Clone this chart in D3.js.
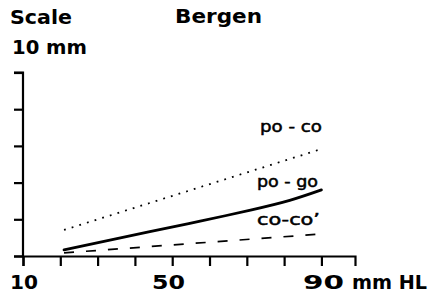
<!DOCTYPE html>
<html>
<head>
<meta charset="utf-8">
<script src="https://cdn.jsdelivr.net/npm/d3@7"></script>
<style>
  html, body { margin: 0; padding: 0; background: #fff; }
  svg { display: block; }
  text { font-family: "DejaVu Sans", sans-serif; fill: #000; }
</style>
</head>
<body>
<svg id="chart" width="431" height="294"></svg>
<script>
// ---- data ----
const hl = [21, 44, 57.5, 71, 81.5, 90];             // mm HL
const poCoHL = [21, 90];
const poCo = [1.42, 5.83];                           // dotted
const poGo = [0.33, 1.33, 1.9, 2.5, 3.03, 3.6];      // solid
const coCoHL = [21, 90];
const coCo = [0.17, 1.2];                            // dashed
const xTickValues = [10, 20, 30, 40, 50, 60, 70, 80, 90];
const xTickLabels = ["10", "50", "90"];
const yTickValues = [0, 2, 4, 6, 8, 10];
const seriesNames = ["po - co", "po - go", "co-co\u2019"];

// ---- chart ----
const svg = d3.select("#chart");
const x = d3.scaleLinear().domain([10, 99]).range([23, 355]);
const y = d3.scaleLinear().domain([0, 10]).range([256, 72.5]);

const yAxis = d3.axisLeft(y).tickValues(yTickValues).tickSize(9).tickSizeOuter(9).tickFormat("");
const xAxis = d3.axisBottom(x).tickValues(xTickValues).tickSize(10).tickSizeOuter(10).tickFormat("");

const gy = svg.append("g").attr("transform", "translate(23,0)").call(yAxis);
const gx = svg.append("g").attr("transform", "translate(0,256)").call(xAxis);
[gx, gy].forEach(g => {
  g.selectAll("path, line").attr("stroke", "#000").attr("stroke-width", 2.2);
});
gy.select(".domain").attr("d", "M-9," + y(10) + "H0V" + (y(0) + 0.5) + "H-9");

const line = d3.line().x(d => x(d[0])).y(d => y(d[1]));

svg.append("path")
  .datum(d3.zip(poCoHL, poCo))
  .attr("d", line)
  .attr("fill", "none").attr("stroke", "#000")
  .attr("stroke-width", 1.8).attr("stroke-dasharray", "1.8,6.2");

svg.append("path")
  .datum(d3.zip(hl, poGo))
  .attr("d", d3.line().x(d => x(d[0])).y(d => y(d[1])).curve(d3.curveNatural))
  .attr("fill", "none").attr("stroke", "#000")
  .attr("stroke-width", 2.8).attr("stroke-linecap", "round");

svg.append("path")
  .datum(d3.zip(coCoHL, coCo))
  .attr("d", line)
  .attr("fill", "none").attr("stroke", "#000")
  .attr("stroke-width", 1.7).attr("stroke-dasharray", "10,12");

// ---- texts ----
function txt(s, xx, yy, len, opts = {}) {
  const t = svg.append("text").attr("x", xx).attr("y", yy).text(s)
    .attr("font-size", opts.size || 19)
    .attr("font-weight", opts.weight || "bold");
  if (opts.stroke) t.attr("stroke", "#000").attr("stroke-width", opts.stroke);
  if (len) t.attr("textLength", len).attr("lengthAdjust", "spacingAndGlyphs");
  return t;
}
txt("Scale", 10, 24, 62);
txt("Bergen", 175, 23, 87);
txt("10 mm", 12, 54, 75);

// x tick labels
txt(xTickLabels[0], 10, 289, 28);
txt(xTickLabels[1], 152, 289, 33);
txt(xTickLabels[2], 303, 289, 41);
txt("mm HL", 352, 289, 75);

// series labels
txt(seriesNames[0], 260, 132, 62, { size: 15.5, weight: "normal", stroke: 0.5 });
txt(seriesNames[1], 257, 187, 61, { size: 15.5, weight: "normal", stroke: 0.5 });
txt(seriesNames[2], 257, 225, 63, { size: 15.5, weight: "normal", stroke: 0.5 });
</script>
</body>
</html>
